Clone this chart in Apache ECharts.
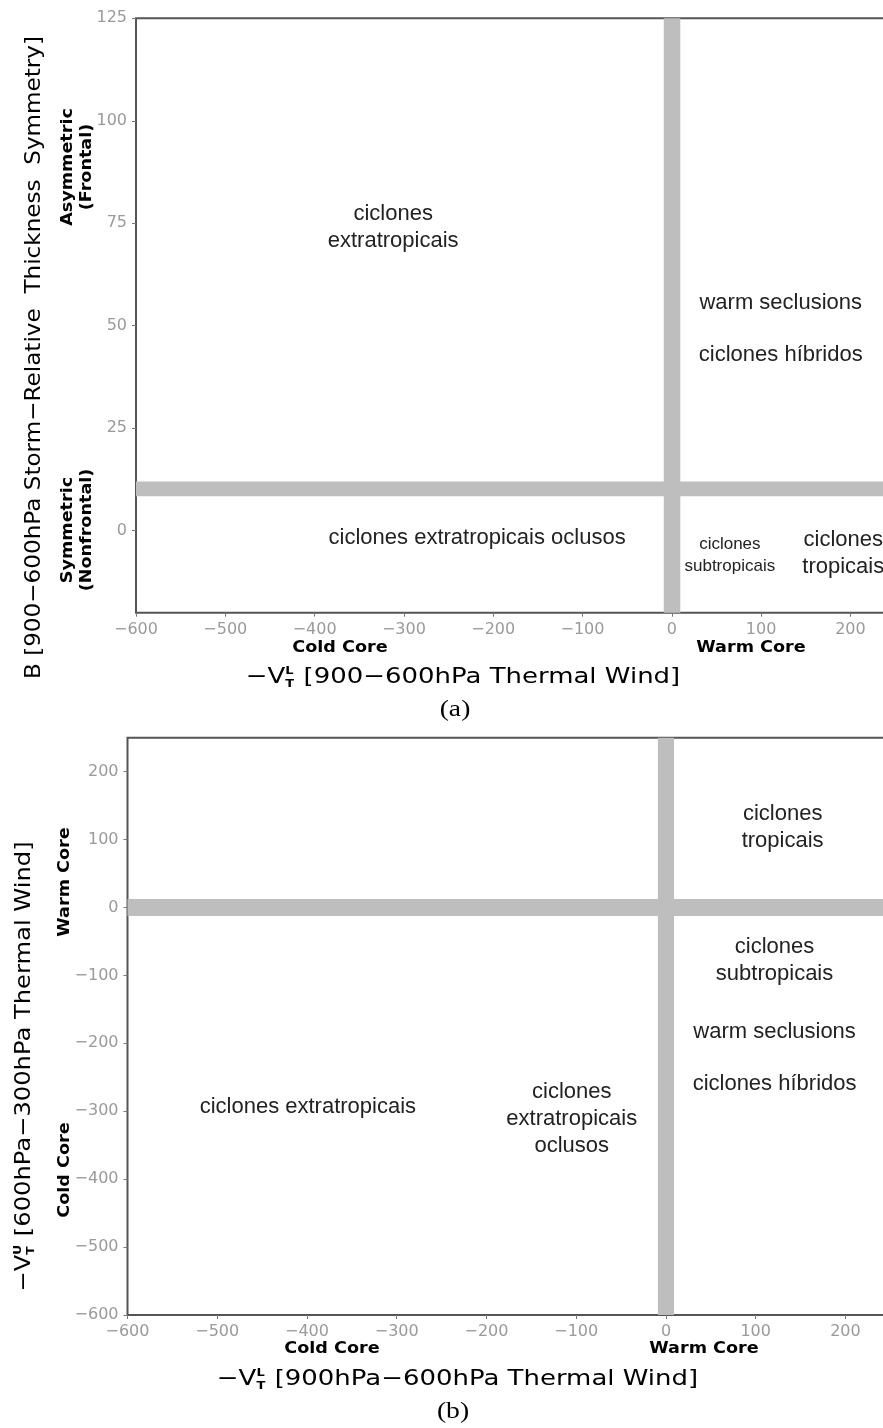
<!DOCTYPE html>
<html>
<head>
<meta charset="utf-8">
<script src="https://cdn.jsdelivr.net/npm/echarts@6/dist/echarts.min.js"></script>
<style>
html,body{margin:0;padding:0;background:#fff;overflow:hidden;width:883px;height:1428px;}
#c{position:absolute;left:0;top:0;width:1000px;height:1428px;}
</style>
</head>
<body>
<div id="c"></div>
<script>
// ---------- data ----------
// Chart (a): B vs -VTL
const xTicksA = [-600, -500, -400, -300, -200, -100, 0, 100, 200, 300];
const yTicksA = [0, 25, 50, 75, 100, 125];
const xRangeA = [-600, 300];
const yRangeA = [-20, 125];
const bandA_x = [-9, 9.5];     // vertical grey band (x limits)
const bandA_y = [8.4, 12];     // horizontal grey band (y limits)
const labelsA = [
  [-312, 74, 'ciclones\nextratropicais'],
  [122, 55.6, 'warm seclusions'],
  [122, 43, 'ciclones híbridos'],
  [-218, -1.7, 'ciclones extratropicais oclusos'],
  [65, -5.9, 'ciclones\nsubtropicais'],
  [192, -5.5, 'ciclones\ntropicais']
];
// Chart (b): -VTU vs -VTL
const xTicksB = [-600, -500, -400, -300, -200, -100, 0, 100, 200, 300];
const yTicksB = [-600, -500, -400, -300, -200, -100, 0, 100, 200];
const xRangeB = [-600, 300];
const yRangeB = [-600, 250];
const bandB_x = [-9, 9];
const bandB_y = [-12.5, 12.5];
const labelsB = [
  [-399, -293.5, 'ciclones extratropicais'],
  [-105, -311, 'ciclones\nextratropicais\noclusos'],
  [130, 117.6, 'ciclones\ntropicais'],
  [121, -77.8, 'ciclones\nsubtropicais'],
  [121, -182.6, 'warm seclusions'],
  [121, -259.6, 'ciclones híbridos']
];

// ---------- styling ----------
const smallLabelIdxA = [4];
const GEO = '"DejaVu Sans"';
const tickColor = '#9a9a9a';

const cnv = document.createElement('canvas');
const ctx = cnv.getContext('2d');
function measure(t, font) { ctx.font = font; return ctx.measureText(t).width; }

function fmt(v) { return String(v).replace('-', '\u2212'); }

function axisCfg(idx, range, ticks) {
  return {
    type: 'value', gridIndex: idx, min: range[0], max: range[1],
    splitLine: {show: false},
    axisLine: {show: false, onZero: false},
    axisTick: {show: true, length: 4, customValues: ticks, lineStyle: {color: '#777', width: 1}},
    axisLabel: {customValues: ticks, formatter: fmt, color: tickColor, fontFamily: 'DejaVu Sans', fontSize: 16, margin: 9}
  };
}
function labelSeries(idx, labels, bx, by, smallIdx) {
  return {
    type: 'scatter', xAxisIndex: idx, yAxisIndex: idx,
    symbolSize: 0, silent: true, z: 5,
    itemStyle: {opacity: 1},
    data: labels.map((l, i) => {
      const small = smallIdx.indexOf(i) >= 0;
      return {
        value: [l[0], l[1]], name: l[2],
        label: {fontSize: small ? 17 : 22, lineHeight: small ? 22 : 27}
      };
    }),
    label: {
      show: true, position: 'inside', formatter: '{b}', color: '#222', opacity: 1,
      textBorderWidth: 0,
      fontFamily: 'Liberation Sans', align: 'center', verticalAlign: 'middle'
    },
    markArea: {
      silent: true,
      itemStyle: {color: '#bebebe', opacity: 1},
      data: [
        [{xAxis: bx[0]}, {xAxis: bx[1]}],
        [{yAxis: by[0]}, {yAxis: by[1]}]
      ]
    }
  };
}

function titleGroup(cx, cy, rot, sx, size, base, sub, sup, rest) {
  const big = size + 'px ' + GEO;
  const smallSize = Math.round(size * 0.5);
  const small = 'bold ' + smallSize + 'px ' + GEO;
  const w1 = measure(base, big);
  const ws = Math.max(sub ? measure(sub, small) : 0, sup ? measure(sup, small) : 0);
  const w2 = measure(rest, big);
  const total = w1 + ws + (ws ? 1 : 0) + w2;
  const x0 = -total / 2;
  const st = (t, f) => ({text: t, font: f, fill: '#000', align: 'left', verticalAlign: 'middle'});
  const children = [{type: 'text', x: x0, y: 0, style: st(base, big)}];
  if (sub) children.push({type: 'text', x: x0 + w1, y: size * 0.33, style: st(sub, small)});
  if (sup) children.push({type: 'text', x: x0 + w1, y: -size * 0.25, style: st(sup, small)});
  children.push({type: 'text', x: x0 + w1 + ws + (ws ? 1 : 0), y: 0, style: st(rest, big)});
  return {type: 'group', x: cx, y: cy, rotation: rot, scaleX: sx, children: children};
}
function boldLabel(cx, cy, rot, text) {
  return {
    type: 'text', x: cx, y: cy, rotation: rot, scaleX: 1.1,
    style: {text: text, font: 'bold 16px ' + GEO, fill: '#000', align: 'center', verticalAlign: 'middle', lineHeight: 19}
  };
}
function capLabel(cx, cy, text) {
  return {
    type: 'text', x: cx, y: cy, scaleX: 1.15,
    style: {text: text, font: '24px "Liberation Serif"', fill: '#000', align: 'center', verticalAlign: 'middle'}
  };
}

const R = Math.PI / 2;
const option = {
  animation: false,
  backgroundColor: '#fff',
  grid: [
    {left: 136, top: 18.3, width: 803.7, height: 594.4, show: true, borderColor: '#555', borderWidth: 2, containLabel: false, outerBoundsMode: 'none'},
    {left: 127.5, top: 737.7, width: 807.7, height: 577.3, show: true, borderColor: '#555', borderWidth: 2, containLabel: false, outerBoundsMode: 'none'}
  ],
  xAxis: [axisCfg(0, xRangeA, xTicksA), axisCfg(1, xRangeB, xTicksB)],
  yAxis: [axisCfg(0, yRangeA, yTicksA), axisCfg(1, yRangeB, yTicksB)],
  series: [
    labelSeries(0, labelsA, bandA_x, bandA_y, smallLabelIdxA),
    labelSeries(1, labelsB, bandB_x, bandB_y, [])
  ],
  graphic: [
    // chart (a)
    titleGroup(463, 677, 0, 1.18, 22, '\u2212V', 'T', 'L', ' [900\u2212600hPa Thermal Wind]'),
    titleGroup(34, 357.5, R, 1.05, 22, 'B [900\u2212600hPa Storm\u2212Relative  Thickness  Symmetry]', '', '', ''),
    boldLabel(340, 648, 0, 'Cold Core'),
    boldLabel(751, 648, 0, 'Warm Core'),
    boldLabel(77.5, 167, R, 'Asymmetric\n(Frontal)'),
    boldLabel(77.5, 530, R, 'Symmetric\n(Nonfrontal)'),
    capLabel(455, 710, '(a)'),
    // chart (b)
    titleGroup(457.5, 1379, 0, 1.18, 22, '\u2212V', 'T', 'L', ' [900hPa\u2212600hPa Thermal Wind]'),
    titleGroup(24, 1066.5, R, 1.1, 22, '\u2212V', 'T', 'U', ' [600hPa\u2212300hPa Thermal Wind]'),
    boldLabel(332, 1349, 0, 'Cold Core'),
    boldLabel(704, 1349, 0, 'Warm Core'),
    boldLabel(65, 882, R, 'Warm Core'),
    boldLabel(65, 1170, R, 'Cold Core'),
    capLabel(453, 1412, '(b)')
  ]
};
const chart = echarts.init(document.getElementById('c'), null, {renderer: 'canvas'});
chart.setOption(option);
</script>
</body>
</html>
